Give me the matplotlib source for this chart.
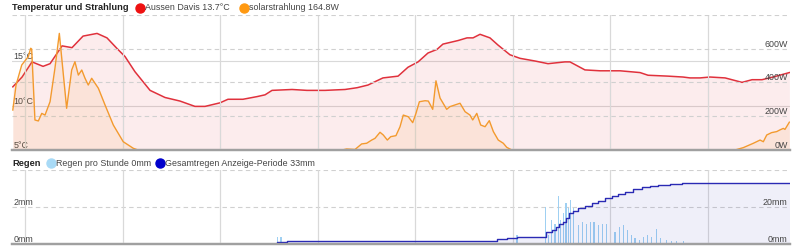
import numpy as np
import matplotlib
matplotlib.use("Agg")
import matplotlib.pyplot as plt
from matplotlib.lines import Line2D

plt.rcParams["font.family"] = ["Liberation Sans", "DejaVu Sans"]

# time in hours, 0 = first vertical grid line
TEMP_HOURS = [-0.75, -0.18, 0.43, 1.11, 1.54, 2.28, 2.89, 3.57, 4.43, 5.04, 5.66, 6.15,
              6.76, 7.69, 8.61, 9.53, 10.45, 11.07, 11.99, 12.48, 13.40, 14.27, 14.76,
              15.19, 16.42, 17.34, 18.45, 19.68, 20.42, 21.09, 22.01, 22.94, 23.55, 24.17,
              24.78, 25.33, 25.70, 26.63, 27.18, 27.55, 27.98, 28.59, 29.08, 29.82, 30.44,
              31.36, 32.16, 33.20, 33.51, 34.43, 35.36, 36.59, 37.82, 38.31, 39.54, 40.46,
              40.89, 41.51, 42.12, 43.05, 44.09, 44.71, 45.32, 46.00, 47.0]
TEMP_VALUES = [12.1, 13.2, 14.9, 14.4, 14.7, 16.7, 16.5, 17.8, 18.1, 17.6, 16.4, 15.5,
               13.8, 11.7, 10.9, 10.5, 9.9, 9.9, 10.3, 10.7, 10.7, 11.0, 11.2,
               11.7, 11.8, 11.7, 11.7, 11.8, 12.0, 12.3, 13.1, 13.3, 14.3, 14.9,
               15.9, 16.3, 16.9, 17.3, 17.6, 17.6, 18.0, 17.6, 16.8, 15.7, 15.3,
               15.0, 14.7, 14.9, 14.9, 14.0, 13.9, 13.9, 13.7, 13.4, 13.3, 13.2,
               13.1, 13.1, 13.2, 13.1, 12.6, 12.9, 12.9, 13.2, 13.7]

SOLAR_HOURS = [-0.75, -0.55, -0.20, 0.20, 0.35, 0.41, 0.61, 0.82, 1.03, 1.23, 1.54, 1.84,
               2.11, 2.26, 2.56, 2.87, 3.07, 3.28, 3.49, 3.69, 3.89, 4.10, 4.51, 4.92,
               5.43, 6.04, 6.66, 6.95, 19.5, 19.78, 20.29, 20.70, 21.01, 21.32, 21.52,
               21.83, 22.03, 22.28, 22.49, 22.81, 23.06, 23.26, 23.57, 23.84, 24.04,
               24.25, 24.60, 24.80, 25.07, 25.27, 25.52, 25.93, 26.13, 26.44, 26.75,
               27.06, 27.36, 27.53, 27.78, 28.02, 28.29, 28.55, 28.80, 29.10, 29.41,
               29.62, 29.93, 43.66, 44.17, 44.79, 45.20, 45.40, 45.61, 45.91, 46.22,
               46.42, 46.63, 46.73, 47.0]
SOLAR_VALUES = [237, 385, 504, 553, 603, 598, 178, 172, 217, 207, 286, 484,
                691, 543, 247, 474, 523, 444, 474, 425, 385, 425, 366, 267,
                148, 49, 10, 0, 0, 6, 3, 36, 40, 59, 69,
                105, 89, 59, 79, 85, 138, 207, 197, 162, 217,
                286, 292, 290, 241, 410, 308, 241, 257, 267, 277,
                227, 207, 178, 217, 148, 138, 174, 109, 59, 40,
                16, 0, 0, 14, 40, 59, 49, 89, 103, 109,
                119, 128, 122, 164.8]

RAIN_TOTAL_HOURS = [-0.8, 15.50, 16.11, 16.91, 29.02, 29.64, 30.25, 32.02, 32.39, 32.65,
                    32.86, 33.06, 33.27, 33.47, 33.72, 34.02, 34.44, 34.85, 35.25, 35.67,
                    36.08, 36.48, 36.89, 37.40, 37.92, 38.43, 38.94, 39.66, 40.38, 47.04]
RAIN_TOTAL_MM = [0, 0.9, 1.4, 1.8, 2.7, 3.2, 3.8, 6.6, 7.6, 9.0,
                 10.8, 12.1, 13.9, 16.6, 18.0, 19.3, 20.5, 22.0, 23.4, 24.7,
                 25.9, 27.0, 28.3, 29.6, 30.6, 31.4, 31.9, 32.4, 32.9, 32.9]

RAIN_RATE_HOURS = [15.50, 15.74, 30.25, 32.02, 32.18, 32.39, 32.59, 32.79, 32.94, 33.10,
                   33.27, 33.41, 33.56, 33.72, 34.02, 34.29, 34.54, 34.78, 34.99, 35.25,
                   35.52, 35.77, 36.01, 36.28, 36.53, 36.79, 37.04, 37.31, 37.51, 37.77,
                   38.02, 38.27, 38.53, 38.84, 39.09, 39.46, 39.77, 40.07, 40.48]
RAIN_RATE_MM = [0.4, 0.4, 0.5, 2.0, 0.5, 1.3, 1.1, 2.6, 1.3, 1.66,
                2.2, 1.93, 2.38, 1.93, 1.03, 1.2, 1.1, 1.2, 1.2, 1.03,
                1.1, 1.1, 0.8, 0.63, 0.94, 1.03, 0.76, 0.49, 0.31, 0.22,
                0.4, 0.49, 0.4, 0.8, 0.31, 0.22, 0.18, 0.18, 0.18]

GRID_HOURS = [0, 6, 12, 18, 24, 30, 36, 42]
TEMP_TICKS = [5, 10, 15]
TEMP_LABELS = ["5°C", "10°C", "15°C"]
SOLAR_TICKS = [0, 200, 400, 600]
SOLAR_LABELS = ["0W", "200W", "400W", "600W"]
RAIN_TICKS = [0, 2]
RAIN_LABELS = ["0mm", "2mm"]
RAIN_TOTAL_TICKS = [0, 20]
RAIN_TOTAL_LABELS = ["0mm", "20mm"]

RED = "#e0313c"
ORANGE = "#f39a2e"
BLUE = "#2a2ab4"
LIGHT_BLUE = "#9fd0f2"
GRID = "#d9d9d9"
TXT = "#444444"
FS = 6.4

W, H = 800, 250


def px(x, y):
    return x / W, 1 - y / H


def setup_axis(ax):
    for s in ["top", "left", "right"]:
        ax.spines[s].set_visible(False)
    ax.spines["bottom"].set_color("#a0a0a0")
    ax.spines["bottom"].set_linewidth(1.6)
    ax.set_xticks([])
    ax.set_yticks([])
    ax.set_xlim(-0.8, 47.04)
    for h in GRID_HOURS:
        ax.axvline(h, color=GRID, lw=0.8, zorder=0)


def legend_item(x, y, color, label):
    fig.add_artist(Line2D([x / W], [1 - y / H], marker="o", markersize=6.5, color=color,
                          transform=fig.transFigure, linestyle="none"))
    fig.text(*px(x + 5, y), label, fontsize=FS, color=TXT, va="center", ha="left")


fig = plt.figure(figsize=(8, 2.5), dpi=100)

# --- temperature & radiation ---
ax = fig.add_axes([12 / W, 1 - 150 / H, 778 / W, 135 / H])
setup_axis(ax)
ax.set_ylim(5, 20.17)
for v in [10, 15]:
    ax.axhline(v, color=GRID, lw=0.8, zorder=0)
ax.fill_between(TEMP_HOURS, TEMP_VALUES, 5, color=RED, alpha=0.09, lw=0)
ax.plot(TEMP_HOURS, TEMP_VALUES, color=RED, lw=1.1, zorder=3)
for v, lab in zip(TEMP_TICKS, TEMP_LABELS):
    ax.text(0.002, v, lab, transform=ax.get_yaxis_transform(), fontsize=FS, color=TXT,
            va="bottom", ha="left")

ax2 = ax.twinx()
setup_axis(ax2)
ax2.set_ylim(0, 800)
for v in [200, 400, 600, 800]:
    ax2.axhline(v, color="#d0d0d0", lw=0.8, ls=(0, (4, 3)), zorder=0)
ax2.fill_between(SOLAR_HOURS, SOLAR_VALUES, 0, color=ORANGE, alpha=0.1, lw=0)
ax2.plot(SOLAR_HOURS, SOLAR_VALUES, color=ORANGE, lw=1.0, zorder=2)
for v, lab in zip(SOLAR_TICKS, SOLAR_LABELS):
    ax2.text(0.997, v, lab, transform=ax2.get_yaxis_transform(), fontsize=FS, color=TXT,
             va="bottom", ha="right")

fig.text(*px(12, 8), "Temperatur und Strahlung", fontsize=6.7, fontweight="bold",
         color="#222222", va="center", ha="left")
legend_item(140, 8, "#ee1111", "Aussen Davis 13.7°C")
legend_item(244, 8, "#ff9911", "solarstrahlung 164.8W")

# --- rain ---
bx = fig.add_axes([12 / W, 1 - 244 / H, 778 / W, 74 / H])
setup_axis(bx)
bx.set_ylim(0, 4)
for v in [2, 4]:
    bx.axhline(v, color="#d0d0d0", lw=0.8, ls=(0, (4, 3)), zorder=0)
bx.bar(RAIN_RATE_HOURS, RAIN_RATE_MM, width=0.07, color=LIGHT_BLUE, zorder=2)
for v, lab in zip(RAIN_TICKS, RAIN_LABELS):
    bx.text(0.002, v, lab, transform=bx.get_yaxis_transform(), fontsize=FS, color=TXT,
            va="bottom", ha="left")

bx2 = bx.twinx()
setup_axis(bx2)
bx2.set_ylim(0, 40)
bx2.fill_between(RAIN_TOTAL_HOURS, RAIN_TOTAL_MM, 0, step="post", color=BLUE, alpha=0.07, lw=0)
bx2.plot(RAIN_TOTAL_HOURS, RAIN_TOTAL_MM, color=BLUE, lw=1.0, drawstyle="steps-post")
for v, lab in zip(RAIN_TOTAL_TICKS, RAIN_TOTAL_LABELS):
    bx2.text(0.997, v, lab, transform=bx2.get_yaxis_transform(), fontsize=FS, color=TXT,
             va="bottom", ha="right")

fig.text(*px(12, 163), "Regen", fontsize=6.7, fontweight="bold", color="#222222",
         va="center", ha="left")
legend_item(51, 163, "#a8daf6", "Regen pro Stunde 0mm")
legend_item(160, 163, "#0000cc", "Gesamtregen Anzeige-Periode 33mm")

fig.savefig("out.png", dpi=100)
